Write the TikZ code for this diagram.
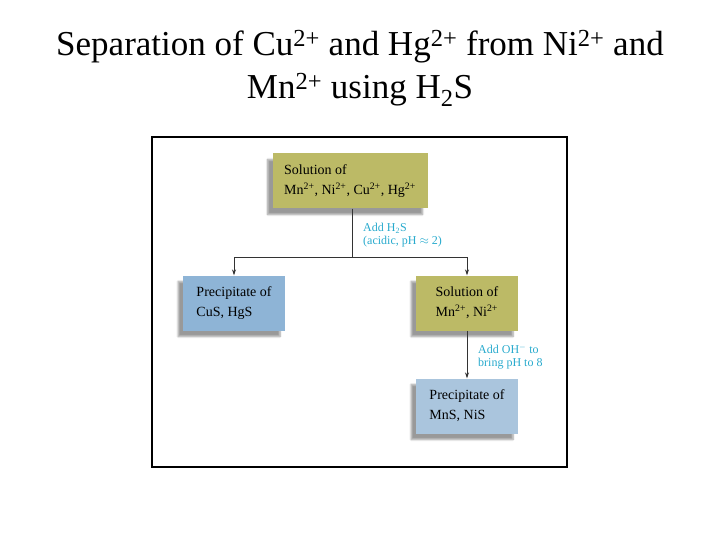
\documentclass[tikz,border=0pt]{standalone}
\usepackage{fontspec}
\setmainfont{Liberation Serif}
\usepackage{xcolor}
\usetikzlibrary{arrows.meta}
\usetikzlibrary{shadows.blur}
\usetikzlibrary{positioning}

\definecolor{olivebox}{RGB}{188,186,102}
\definecolor{bluebox}{RGB}{142,180,214}
\definecolor{paleblue}{RGB}{170,197,221}
\definecolor{steptext}{RGB}{40,170,205}

\newcommand{\chg}[1]{\textsuperscript{#1}}

\begin{document}
\begin{tikzpicture}[x=1pt,y=-1pt,
      every node/.style={inner sep=0pt},
      flowbox/.style={minimum width=102pt,minimum height=55pt,
        align=left,font=\fontsize{14}{20}\selectfont,
        blur shadow={shadow xshift=-5pt,shadow yshift=-6pt,shadow blur steps=6}},
      solbox/.style={flowbox,fill=olivebox},
      precbox/.style={flowbox,fill=bluebox},
      stepnote/.style={anchor=north west,align=left,text=steptext,
        font=\fontsize{12}{13}\selectfont},
      headline/.style={anchor=base,font=\fontsize{35}{40}\selectfont},
      link/.style={draw=black!80,line width=0.8pt},
      arr/.style={link,-{Stealth[length=6pt,width=4pt]}}]
  \useasboundingbox (0,0) rectangle (720,540);

  % title
  \node[headline] (title1) at (360,56)
    {Separation of Cu\chg{2+} and Hg\chg{2+} from Ni\chg{2+} and};
  \node[headline] (title2) at (360,99) {Mn\chg{2+} using H\textsubscript{2}S};

  % frame
  \draw[line width=2pt] (152,137) rectangle (567,467);

  % boxes
  \node[solbox,minimum width=155pt] (start) at (350,181)
    {Solution of\\Mn\chg{2+}, Ni\chg{2+}, Cu\chg{2+}, Hg\chg{2+}};
  \node[precbox] (cuhg) at (234,303) {Precipitate of\\CuS, HgS};
  \node[solbox] (mnni) at (467,303) {Solution of\\Mn\chg{2+}, Ni\chg{2+}};
  \node[precbox,fill=paleblue] (mnnis) at (467,406) {Precipitate of\\MnS, NiS};

  % connectors
  \coordinate (split) at (352,257);
  \draw[link] (start.south -| split) -- (split);
  \draw[arr] (split) -| (cuhg.north);
  \draw[arr] (split) -| (mnni.north);
  \draw[arr] (mnni) -- (mnnis);

  % steps
  \node[stepnote] (h2s) at (363,223) {Add H\textsubscript{2}S\\(acidic, pH $\approx$ 2)};
  \node[stepnote] (oh) at (478,344) {Add OH$^-$ to\\bring pH to 8};
\end{tikzpicture}
\end{document}
